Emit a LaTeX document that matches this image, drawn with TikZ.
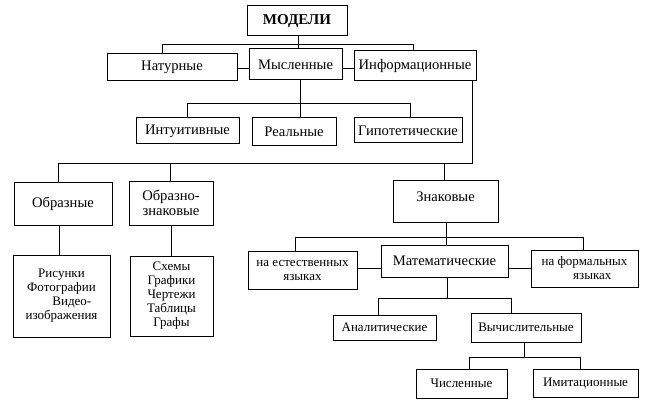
\documentclass[tikz,border=0pt]{standalone}
\usepackage{fontspec}
\setmainfont{Liberation Serif}
\begin{document}
\begin{tikzpicture}[x=1pt,y=-1pt,
  box/.style={draw,line width=1pt,inner sep=0pt,align=center,font=\fontsize{13}{14}\selectfont},
  big/.style={font=\fontsize{14.6}{15.5}\selectfont},
  wire/.style={line width=1pt}]
\useasboundingbox (0,0) rectangle (647,406);
% nodes
\node[box,minimum width=100,minimum height=30,font=\bfseries\fontsize{15}{16}\selectfont] (modeli) at (297,21) {МОДЕЛИ};
\node[box,big,minimum width=130,minimum height=27] (nat) at (172,67.5) {Натурные};
\node[box,big,minimum width=93,minimum height=31] (mysl) at (295.5,64.5) {Мысленные};
\node[box,big,minimum width=122,minimum height=30] (inf) at (415,66) {Информационные};
\node[box,big,minimum width=103,minimum height=26] (intu) at (187.5,131) {Интуитивные};
\node[box,big,minimum width=84,minimum height=28] (real) at (294,132) {Реальные};
\node[box,big,minimum width=108,minimum height=25] (gipo) at (408,130.5) {Гипотетические};
\node[box,big,minimum width=98,minimum height=43] (obr) at (63,203.5) {Образные};
\node[box,big,minimum width=84,minimum height=44] (obrzn) at (171,203) {Образно-\\знаковые};
\node[box,minimum width=97,minimum height=82] (ris) at (61.5,296) {Рисунки\\Фотографии\\\hspace*{1.6em}Видео-\\изображения};
\node[box,minimum width=83,minimum height=80] (skh) at (171.5,296) {Схемы\\Графики\\Чертежи\\Таблицы\\Графы};
\node[box,big,minimum width=105,minimum height=42,text depth=9pt] (znak) at (445.5,201) {Знаковые};
\node[box,minimum width=109,minimum height=38] (est) at (302.5,270) {на естественных\\языках};
\node[box,big,minimum width=127,minimum height=32] (mat) at (444.5,261) {Математические};
\node[box,minimum width=107,minimum height=37] (form) at (584.5,268.5) {на формальных\\\hspace*{1.2em}языках};
\node[box,minimum width=103,minimum height=25] (anal) at (384.5,327.5) {Аналитические};
\node[box,minimum width=110,minimum height=29] (vych) at (526,327.5) {Вычислительные};
\node[box,minimum width=91,minimum height=29] (chisl) at (461.5,383.5) {Численные};
\node[box,minimum width=105,minimum height=28] (imit) at (585.5,383) {Имитационные};
% junction coordinates
\coordinate (j1) at (298,45);
\coordinate (j1l) at (162,45);
\coordinate (j1r) at (413,45);
\coordinate (h1) at (0,69);
\coordinate (j2) at (300,104);
\coordinate (j2l) at (187,104);
\coordinate (j2r) at (410,104);
\coordinate (j3) at (472,164);
\coordinate (j3l) at (58,164);
\coordinate (j3m) at (170,164);
\coordinate (j3z) at (444,164);
\coordinate (v4) at (59,0);
\coordinate (j5) at (446,237);
\coordinate (j5l) at (295,237);
\coordinate (j5r) at (583,237);
\coordinate (h5) at (0,268);
\coordinate (j6) at (447,298);
\coordinate (j6l) at (378,298);
\coordinate (j6r) at (511,298);
\coordinate (j7) at (524,357);
\coordinate (j7l) at (469,357);
\coordinate (j7r) at (580,357);
% connectors
\draw[wire] (modeli.south -| j1) -- (mysl.north -| j1);
\draw[wire] (nat.north -| j1l) -- (j1l) -- (j1r) -- (inf.north -| j1r);
\draw[wire] (nat.east |- h1) -- (mysl.west |- h1);
\draw[wire] (mysl.east |- h1) -- (inf.west |- h1);
\draw[wire] (mysl.south -| j2) -- (real.north -| j2);
\draw[wire] (intu.north -| j2l) -- (j2l) -- (j2r) -- (gipo.north -| j2r);
\draw[wire] (inf.south -| j3) -- (j3) -- (j3l) -- (obr.north -| j3l);
\draw[wire] (j3m) -- (obrzn.north -| j3m);
\draw[wire] (j3z) -- (znak.north -| j3z);
\draw[wire] (obr.south -| v4) -- (ris.north -| v4);
\draw[wire] (obrzn.south) -- (obrzn.south |- skh.north);
\draw[wire] (znak.south -| j5) -- (mat.north -| j5);
\draw[wire] (est.north -| j5l) -- (j5l) -- (j5r) -- (form.north -| j5r);
\draw[wire] (est.east |- h5) -- (mat.west |- h5);
\draw[wire] (mat.east |- h5) -- (form.west |- h5);
\draw[wire] (mat.south -| j6) -- (j6);
\draw[wire] (anal.north -| j6l) -- (j6l) -- (j6r) -- (vych.north -| j6r);
\draw[wire] (vych.south -| j7) -- (j7);
\draw[wire] (chisl.north -| j7l) -- (j7l) -- (j7r) -- (imit.north -| j7r);
\end{tikzpicture}
\end{document}
